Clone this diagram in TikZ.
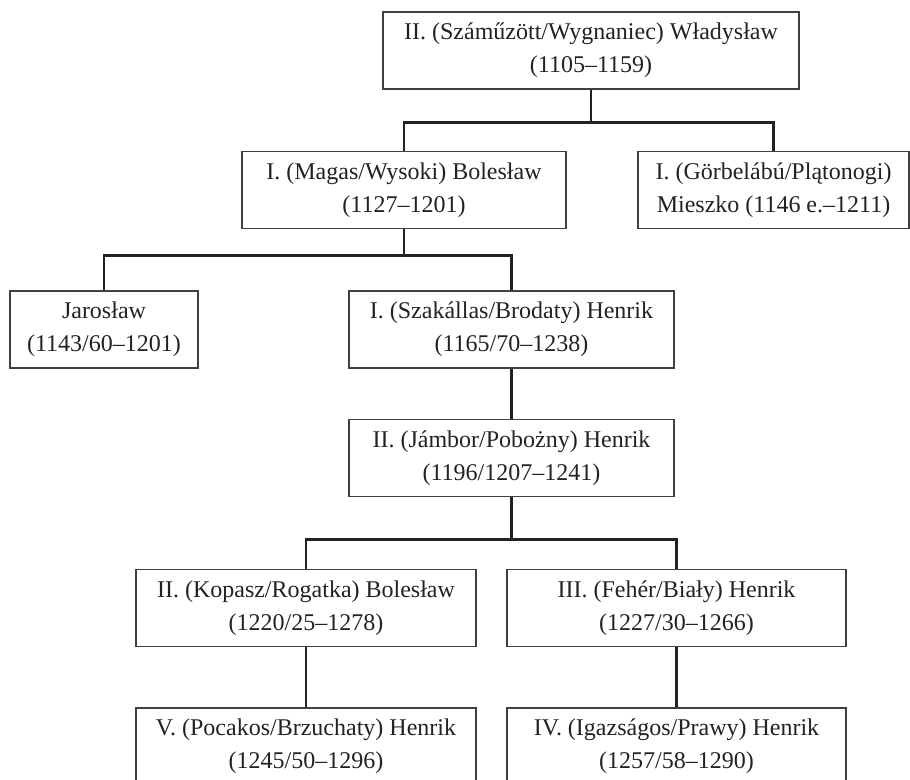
\documentclass[tikz,border=0pt]{standalone}
\usepackage{fontspec}
\setmainfont{Liberation Serif}
\definecolor{boxline}{HTML}{404040}
\definecolor{conline}{HTML}{222222}
\definecolor{textcol}{HTML}{222222}
\begin{document}
\begin{tikzpicture}[x=1pt,y=-1pt,
  person/.style={draw=boxline,line width=1.4pt,rectangle,inner sep=0pt,
    minimum height=77pt,align=center,text=textcol,
    font=\fontsize{24}{33}\selectfont},
  link/.style={draw=conline,line width=2.8pt}]
\useasboundingbox (0,0) rectangle (910,779);
\clip (0,0) rectangle (910,779);
\node[person,minimum width=416pt] (W) at (591,50.5) {II. (Száműzött/Wygnaniec) Władysław\\(1105–1159)};
\node[person,minimum width=324pt] (B1) at (404,190) {I. (Magas/Wysoki) Bolesław\\(1127–1201)};
\node[person,minimum width=271pt] (M) at (773.5,190) {I. (Görbelábú/Plątonogi)\\Mieszko (1146 e.–1211)};
\node[person,minimum width=188pt] (J) at (104,329.5) {Jarosław\\(1143/60–1201)};
\node[person,minimum width=325pt] (H1) at (511.5,329.5) {I. (Szakállas/Brodaty) Henrik\\(1165/70–1238)};
\node[person,minimum width=325pt] (H2) at (511.5,458) {II. (Jámbor/Pobożny) Henrik\\(1196/1207–1241)};
\node[person,minimum width=340pt] (B2) at (306,608) {II. (Kopasz/Rogatka) Bolesław\\(1220/25–1278)};
\node[person,minimum width=339pt] (H3) at (676.5,608) {III. (Fehér/Biały) Henrik\\(1227/30–1266)};
\node[person,minimum width=340pt] (H5) at (306,746.5) {V. (Pocakos/Brzuchaty) Henrik\\(1245/50–1296)};
\node[person,minimum width=339pt] (H4) at (676.5,746.5) {IV. (Igazságos/Prawy) Henrik\\(1257/58–1290)};
\draw[link] (W.south) -- ++(0,33) -| (B1.north);
\draw[link] (W.south) -- ++(0,33) -| (M.north);
\draw[link] (B1.south) -- ++(0,26) -| (J.north);
\draw[link] (B1.south) -- ++(0,26) -| (H1.north);
\draw[link] (H1.south) -- (H2.north);
\draw[link] (H2.south) -- ++(0,42) -| (B2.north);
\draw[link] (H2.south) -- ++(0,42) -| (H3.north);
\draw[link] (B2.south) -- (H5.north);
\draw[link] (H3.south) -- (H4.north);
\end{tikzpicture}
\end{document}
